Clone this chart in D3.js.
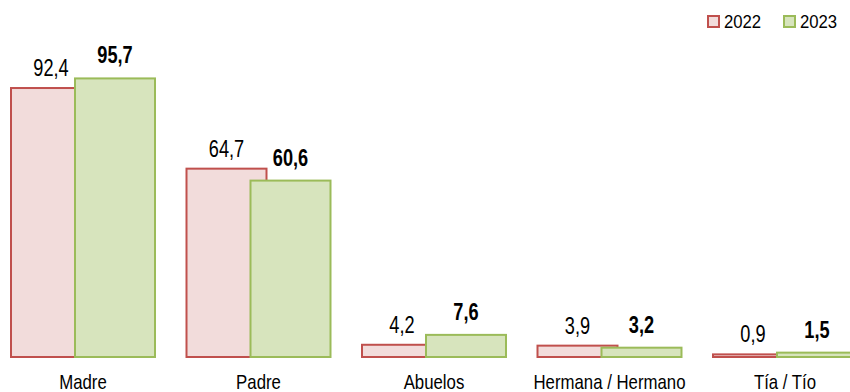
<!DOCTYPE html>
<html>
<head>
<meta charset="utf-8">
<script src="https://cdn.jsdelivr.net/npm/d3@7/dist/d3.min.js"></script>
<style>
  html, body { margin: 0; padding: 0; background: #fff; }
  svg { display: block; }
  text { font-family: "Liberation Sans", Arial, sans-serif; fill: #000; }
</style>
</head>
<body>
<svg id="chart" width="850" height="392"></svg>
<script>
// Family members, share in % per year
const categories = ["Madre", "Padre", "Abuelos", "Hermana / Hermano", "Tía / Tío"];
const years = ["2022", "2023"];
const values2022 = [92.4, 64.7, 4.2, 3.9, 0.9];
const values2023 = [95.7, 60.6, 7.6, 3.2, 1.5];

const fills = { "2022": "#f2dcdb", "2023": "#d7e4bd" };
const strokes = { "2022": "#c0504d", "2023": "#9bbb59" };

const svg = d3.select("#chart");

const baseline = 357;
const x = d3.scaleBand().domain(categories).range([11, 857]).paddingInner(0.1795).paddingOuter(0);
const y = d3.scaleLinear().domain([0, 100]).range([baseline, baseline - 291.1]);
const barW = 80;
const offset = { "2022": 0, "2023": x.bandwidth() - barW };

const fmt = v => d3.format(".1f")(v).replace(".", ",");

// condensed text: regular face squeezed horizontally
const narrow = (sel, sx) => sel.attr("transform", function () {
  const t = d3.select(this);
  return `translate(${t.attr("data-x")},${t.attr("data-y")}) scale(${sx},1)`;
});

const series = years.map((yr, i) => ({
  year: yr,
  values: (i === 0 ? values2022 : values2023).map((v, j) => ({ cat: categories[j], v }))
}));

const g = svg.append("g");

// bars: draw group by group so the 2023 bar sits over the 2022 bar
categories.forEach((cat, j) => {
  series.forEach(s => {
    const d = s.values[j];
    g.append("rect")
      .attr("x", x(cat) + offset[s.year])
      .attr("y", y(d.v))
      .attr("width", barW)
      .attr("height", baseline - y(d.v))
      .attr("fill", fills[s.year])
      .attr("stroke", strokes[s.year])
      .attr("stroke-width", 2);
  });
});

// value labels
series.forEach(s => {
  const bold = s.year === "2023";
  g.selectAll(null).data(s.values).enter().append("text")
    .attr("data-x", d => x(d.cat) + offset[s.year] + barW / 2)
    .attr("data-y", d => y(d.v) - (bold ? 15 : 12))
    .attr("text-anchor", "middle")
    .attr("font-size", 23)
    .attr("font-weight", bold ? "bold" : "normal")
    .text(d => fmt(d.v))
    .call(narrow, 0.79);
});

// category labels
g.selectAll(null).data(categories).enter().append("text")
  .attr("data-x", d => x(d) + x.bandwidth() / 2)
  .attr("data-y", 389)
  .attr("text-anchor", "middle")
  .attr("font-size", 20)
  .text(d => d)
  .call(narrow, 0.84);

// legend
const legend = svg.append("g");
const legX = { "2022": 708, "2023": 784 };
years.forEach(yr => {
  legend.append("rect")
    .attr("x", legX[yr]).attr("y", 16)
    .attr("width", 11).attr("height", 11)
    .attr("fill", fills[yr]).attr("stroke", strokes[yr]).attr("stroke-width", 2);
  legend.append("text")
    .attr("data-x", legX[yr] + 16).attr("data-y", 28)
    .attr("font-size", 19)
    .text(yr)
    .call(narrow, 0.88);
});
</script>
</body>
</html>
